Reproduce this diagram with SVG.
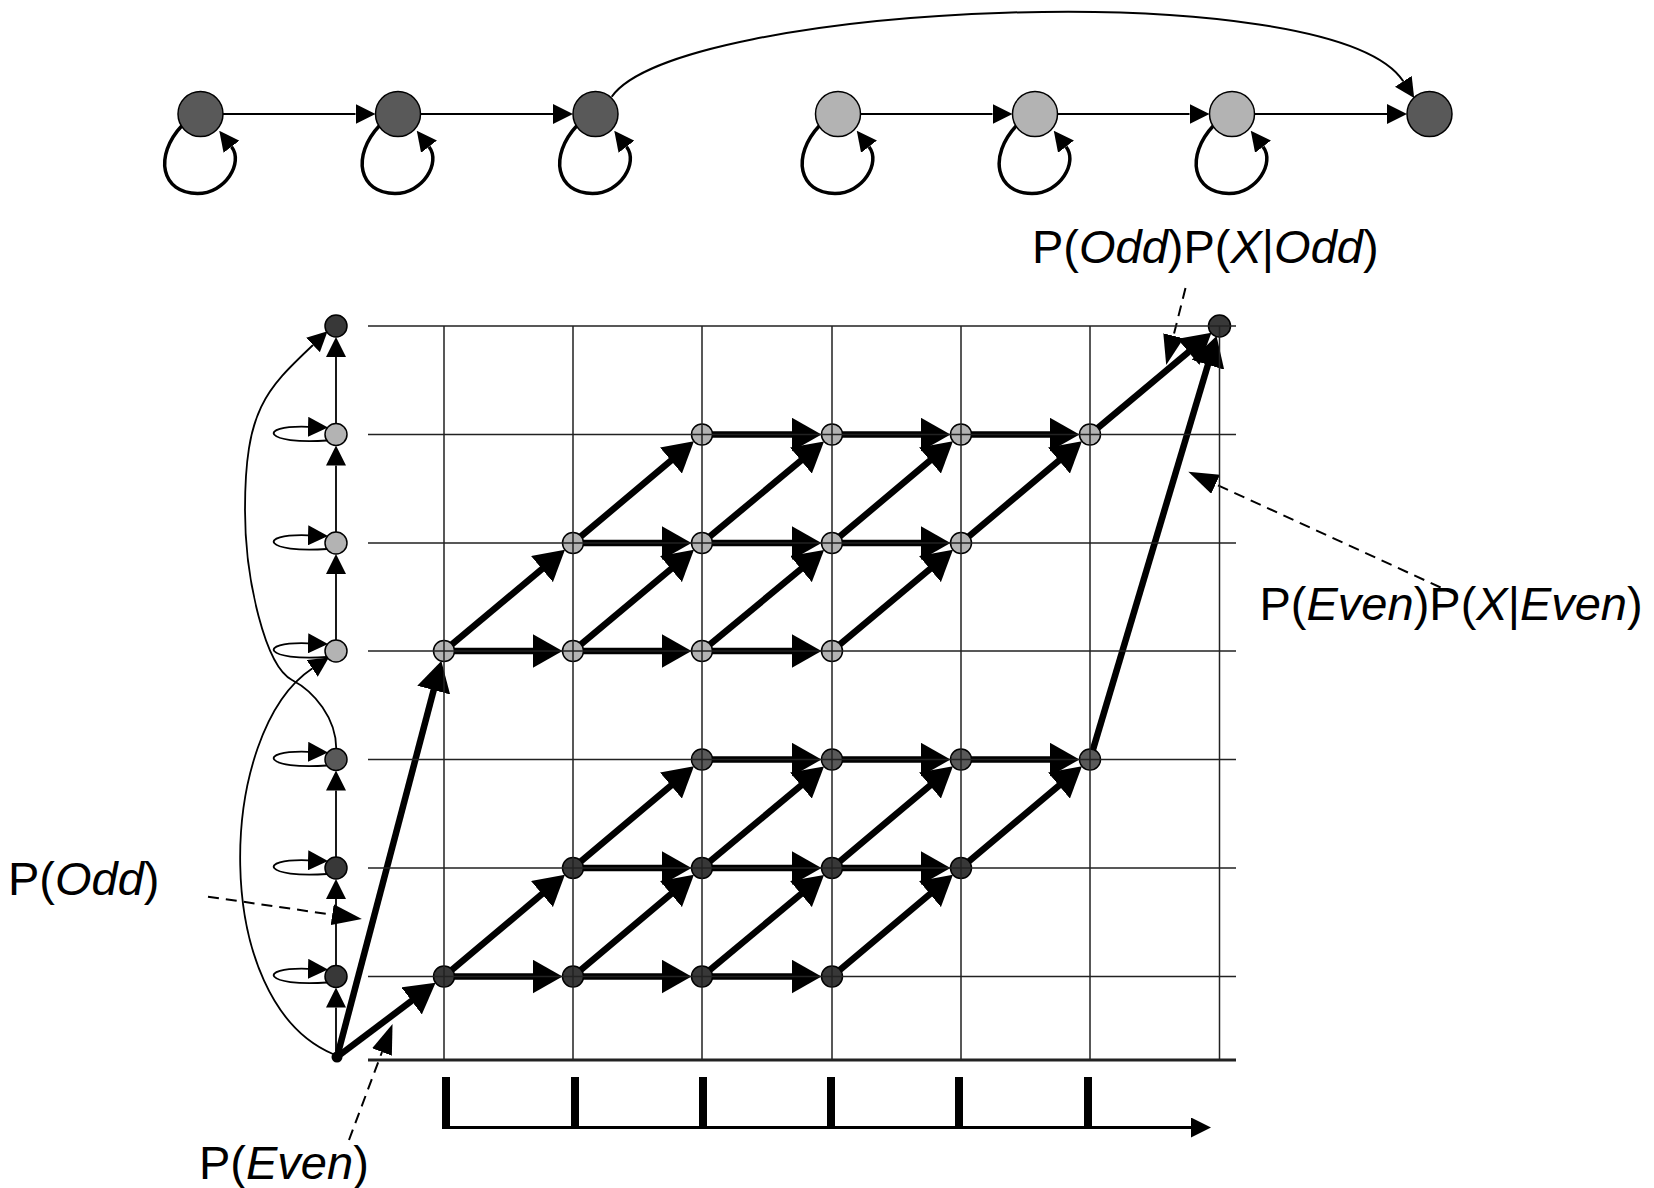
<svg xmlns="http://www.w3.org/2000/svg" width="1654" height="1188" viewBox="0 0 1654 1188">
<style>
.grid{stroke:#222;stroke-width:1.5;fill:none}
.base{stroke:#222;stroke-width:3;fill:none}
.thick{stroke:#000;stroke-width:6.5;fill:none;marker-end:url(#ahBig)}
.thin{stroke:#000;stroke-width:2;fill:none;marker-end:url(#ahSmall)}
.thinl{stroke:#000;stroke-width:1.8;fill:none;marker-end:url(#ahSmall)}
.loop{stroke:#000;stroke-width:3.5;fill:none;marker-end:url(#ahSmall)}
.dash{stroke:#000;stroke-width:2;fill:none;stroke-dasharray:11 7;marker-end:url(#ahDash)}
.light{fill:#b3b3b3;stroke:#000;stroke-width:1.5}
.mid{fill:#595959;stroke:#000;stroke-width:1.5}
.dark{fill:#383838;stroke:#000;stroke-width:1.5}
.lbl{font-family:"Liberation Sans",Arial,sans-serif;font-size:47px;fill:#000}
.it{font-style:italic}
</style>
<defs>
<marker id="ahSmall" viewBox="0 0 20 20" refX="0" refY="10" markerWidth="20" markerHeight="20" markerUnits="userSpaceOnUse" orient="auto"><path d="M0,0 L20,10 L0,20 z" fill="#000"/></marker>
<marker id="ahBig" viewBox="0 0 30 34" refX="2" refY="17" markerWidth="30" markerHeight="34" markerUnits="userSpaceOnUse" orient="auto"><path d="M0,0 L30,17 L0,34 z" fill="#000"/></marker>
<marker id="ahDash" viewBox="0 0 30 21" refX="0" refY="10.5" markerWidth="30" markerHeight="21" markerUnits="userSpaceOnUse" orient="auto"><path d="M0,0 L30,10.5 L0,21 z" fill="#000"/></marker>
</defs>
<rect x="0" y="0" width="1654" height="1188" fill="#fff"/>

<g id="connectors">
<!-- top chain -->
<path class="thin" d="M223,114 H355.5"/>
<path class="thin" d="M420.5,114 H553"/>
<path class="thin" d="M860.5,114 H992.5"/>
<path class="thin" d="M1057.5,114 H1189.5"/>
<path class="thin" d="M1254.5,114 H1387"/>
<path class="thin" d="M611.7,96.7 C677.2,2.4 1332.5,-27.8 1403.3,81.3"/>
<path class="loop" transform="translate(200.5,114)" d="M-18,11 C-47.5,42.3 -39,79.5 -3,79.5 C25,79.5 43.2,48.5 31,32.7"/>
<path class="loop" transform="translate(398,114)" d="M-18,11 C-47.5,42.3 -39,79.5 -3,79.5 C25,79.5 43.2,48.5 31,32.7"/>
<path class="loop" transform="translate(595.5,114)" d="M-18,11 C-47.5,42.3 -39,79.5 -3,79.5 C25,79.5 43.2,48.5 31,32.7"/>
<path class="loop" transform="translate(838,114)" d="M-18,11 C-47.5,42.3 -39,79.5 -3,79.5 C25,79.5 43.2,48.5 31,32.7"/>
<path class="loop" transform="translate(1035,114)" d="M-18,11 C-47.5,42.3 -39,79.5 -3,79.5 C25,79.5 43.2,48.5 31,32.7"/>
<path class="loop" transform="translate(1232,114)" d="M-18,11 C-47.5,42.3 -39,79.5 -3,79.5 C25,79.5 43.2,48.5 31,32.7"/>
<!-- left column -->
<path class="thinl" d="M336,423.5 V357"/>
<path class="thinl" d="M336,532 V465.5"/>
<path class="thinl" d="M336,640 V574"/>
<path class="thinl" d="M336,857 V790.5"/>
<path class="thinl" d="M336,965.5 V899"/>
<path class="thinl" d="M336,1051.5 V1007.5"/>
<path class="thinl" transform="translate(336,434.5)" d="M-9,6 C-71,10.6 -81,-9.4 -28,-7.7"/>
<path class="thinl" transform="translate(336,543)" d="M-9,6 C-71,10.6 -81,-9.4 -28,-7.7"/>
<path class="thinl" transform="translate(336,651)" d="M-9,6 C-71,10.6 -81,-9.4 -28,-7.7"/>
<path class="thinl" transform="translate(336,759.5)" d="M-9,6 C-71,10.6 -81,-9.4 -28,-7.7"/>
<path class="thinl" transform="translate(336,868)" d="M-9,6 C-71,10.6 -81,-9.4 -28,-7.7"/>
<path class="thinl" transform="translate(336,976.5)" d="M-9,6 C-71,10.6 -81,-9.4 -28,-7.7"/>
<path class="thinl" d="M336.3,749 C336.3,718.3 314.2,691.5 292,680 C265.4,666.2 245,580 245,510 C245,410 265.5,389.9 313,345"/>
<path class="thinl" d="M333,1054 C208.8,1001.4 216.75,731.75 312.2,668.5"/>
<!-- trellis horizontal -->
<path class="thick" d="M444,651 H534.5"/>
<path class="thick" d="M573,651 H663.5"/>
<path class="thick" d="M702,651 H793.5"/>
<path class="thick" d="M573,543 H663.5"/>
<path class="thick" d="M702,543 H793.5"/>
<path class="thick" d="M832,543 H922.5"/>
<path class="thick" d="M702,434.5 H793.5"/>
<path class="thick" d="M832,434.5 H922.5"/>
<path class="thick" d="M961,434.5 H1051.5"/>
<path class="thick" d="M444,976.5 H534.5"/>
<path class="thick" d="M573,976.5 H663.5"/>
<path class="thick" d="M702,976.5 H793.5"/>
<path class="thick" d="M573,868 H663.5"/>
<path class="thick" d="M702,868 H793.5"/>
<path class="thick" d="M832,868 H922.5"/>
<path class="thick" d="M702,759.5 H793.5"/>
<path class="thick" d="M832,759.5 H922.5"/>
<path class="thick" d="M961,759.5 H1051.5"/>
<!-- trellis diagonal -->
<path class="thick" d="M444,651 L543.5,567.8"/>
<path class="thick" d="M573,651 L672.5,567.8"/>
<path class="thick" d="M702,651 L802.5,567.8"/>
<path class="thick" d="M832,651 L931.5,567.8"/>
<path class="thick" d="M573,543 L672.5,459.3"/>
<path class="thick" d="M702,543 L802.5,459.3"/>
<path class="thick" d="M832,543 L931.5,459.3"/>
<path class="thick" d="M961,543 L1060.5,459.3"/>
<path class="thick" d="M444,976.5 L543.5,892.8"/>
<path class="thick" d="M573,976.5 L672.5,892.8"/>
<path class="thick" d="M702,976.5 L802.5,892.8"/>
<path class="thick" d="M832,976.5 L931.5,892.8"/>
<path class="thick" d="M573,868 L672.5,784.3"/>
<path class="thick" d="M702,868 L802.5,784.3"/>
<path class="thick" d="M832,868 L931.5,784.3"/>
<path class="thick" d="M961,868 L1060.5,784.3"/>
<!-- long -->
<path class="thick" d="M337,1057 L434.2,688.2"/>
<path class="thick" d="M337,1057 L413.2,999.7"/>
<path class="thick" d="M1090,759.5 L1208.5,362.9"/>
<path class="thick" d="M1090,434.5 L1190,350.7"/>
<!-- annotations -->
<path class="dash" d="M208,896.7 L332.2,914.7"/>
<path class="dash" d="M349,1140 L382,1052"/>
<path class="dash" d="M1185.5,288 L1173.5,335.8"/>
<path class="dash" d="M1457,595 L1215.6,484.2"/>
</g>

<!-- top chain nodes -->
<g id="t1"><circle class="mid" cx="200.5" cy="114" r="22.5"/></g>
<g id="t2"><circle class="mid" cx="398" cy="114" r="22.5"/></g>
<g id="t3"><circle class="mid" cx="595.5" cy="114" r="22.5"/></g>
<g id="t4"><circle class="light" cx="838" cy="114" r="22.5"/></g>
<g id="t5"><circle class="light" cx="1035" cy="114" r="22.5"/></g>
<g id="t6"><circle class="light" cx="1232" cy="114" r="22.5"/></g>
<g id="t7"><circle class="mid" cx="1429.5" cy="114" r="22.5"/></g>

<!-- left column nodes -->
<g id="l0"><circle class="dark" cx="336" cy="326" r="11"/></g>
<g id="l1"><circle class="light" cx="336" cy="434.5" r="11"/></g>
<g id="l2"><circle class="light" cx="336" cy="543" r="11"/></g>
<g id="l3"><circle class="light" cx="336" cy="651" r="11"/></g>
<g id="l4"><circle class="mid" cx="336" cy="759.5" r="11"/></g>
<g id="l5"><circle class="dark" cx="336" cy="868" r="11"/></g>
<g id="l6"><circle class="dark" cx="336" cy="976.5" r="11"/></g>
<g id="start"><circle cx="337" cy="1057" r="5.5" fill="#000"/></g>

<!-- trellis nodes -->
<g id="g3-0"><circle class="light" cx="444" cy="651" r="10.5"/></g>
<g id="g3-1"><circle class="light" cx="573" cy="651" r="10.5"/></g>
<g id="g3-2"><circle class="light" cx="702" cy="651" r="10.5"/></g>
<g id="g3-3"><circle class="light" cx="832" cy="651" r="10.5"/></g>
<g id="g2-1"><circle class="light" cx="573" cy="543" r="10.5"/></g>
<g id="g2-2"><circle class="light" cx="702" cy="543" r="10.5"/></g>
<g id="g2-3"><circle class="light" cx="832" cy="543" r="10.5"/></g>
<g id="g2-4"><circle class="light" cx="961" cy="543" r="10.5"/></g>
<g id="g1-2"><circle class="light" cx="702" cy="434.5" r="10.5"/></g>
<g id="g1-3"><circle class="light" cx="832" cy="434.5" r="10.5"/></g>
<g id="g1-4"><circle class="light" cx="961" cy="434.5" r="10.5"/></g>
<g id="g1-5"><circle class="light" cx="1090" cy="434.5" r="10.5"/></g>
<g id="g6-0"><circle class="dark" cx="444" cy="976.5" r="10.5"/></g>
<g id="g6-1"><circle class="dark" cx="573" cy="976.5" r="10.5"/></g>
<g id="g6-2"><circle class="dark" cx="702" cy="976.5" r="10.5"/></g>
<g id="g6-3"><circle class="dark" cx="832" cy="976.5" r="10.5"/></g>
<g id="g5-1"><circle class="dark" cx="573" cy="868" r="10.5"/></g>
<g id="g5-2"><circle class="dark" cx="702" cy="868" r="10.5"/></g>
<g id="g5-3"><circle class="dark" cx="832" cy="868" r="10.5"/></g>
<g id="g5-4"><circle class="dark" cx="961" cy="868" r="10.5"/></g>
<g id="g4-2"><circle class="mid" cx="702" cy="759.5" r="10.5"/></g>
<g id="g4-3"><circle class="mid" cx="832" cy="759.5" r="10.5"/></g>
<g id="g4-4"><circle class="mid" cx="961" cy="759.5" r="10.5"/></g>
<g id="g4-5"><circle class="mid" cx="1090" cy="759.5" r="10.5"/></g>
<g id="end"><circle class="dark" cx="1219.5" cy="326" r="11"/></g>

<g id="grid">
<path class="grid" d="M368,326 H1236 M368,434.5 H1236 M368,543 H1236 M368,651 H1236 M368,759.5 H1236 M368,868 H1236 M368,976.5 H1236"/>
<path class="grid" d="M444,326 V1060 M573,326 V1060 M702,326 V1060 M832,326 V1060 M961,326 V1060 M1090,326 V1060 M1219.5,326 V1060"/>
<path class="base" d="M368,1060 H1236"/>
</g>

<g id="axis">
<path d="M442,1127.5 H1191" stroke="#000" stroke-width="3" fill="none" marker-end="url(#ahSmall)"/>
<rect x="442" y="1077" width="8" height="52" fill="#000"/>
<rect x="571" y="1077" width="8" height="52" fill="#000"/>
<rect x="699" y="1077" width="8" height="52" fill="#000"/>
<rect x="827" y="1077" width="8" height="52" fill="#000"/>
<rect x="955" y="1077" width="8" height="52" fill="#000"/>
<rect x="1084" y="1077" width="8" height="52" fill="#000"/>
</g>

<g id="labels">
<text class="lbl" x="1032" y="263">P(<tspan class="it">Odd</tspan>)P(<tspan class="it">X</tspan>|<tspan class="it">Odd</tspan>)</text>
<text class="lbl" x="1259.5" y="620">P(<tspan class="it">Even</tspan>)P(<tspan class="it">X</tspan>|<tspan class="it">Even</tspan>)</text>
<text class="lbl" x="8" y="895">P(<tspan class="it">Odd</tspan>)</text>
<text class="lbl" x="199" y="1179">P(<tspan class="it">Even</tspan>)</text>
</g>
</svg>
